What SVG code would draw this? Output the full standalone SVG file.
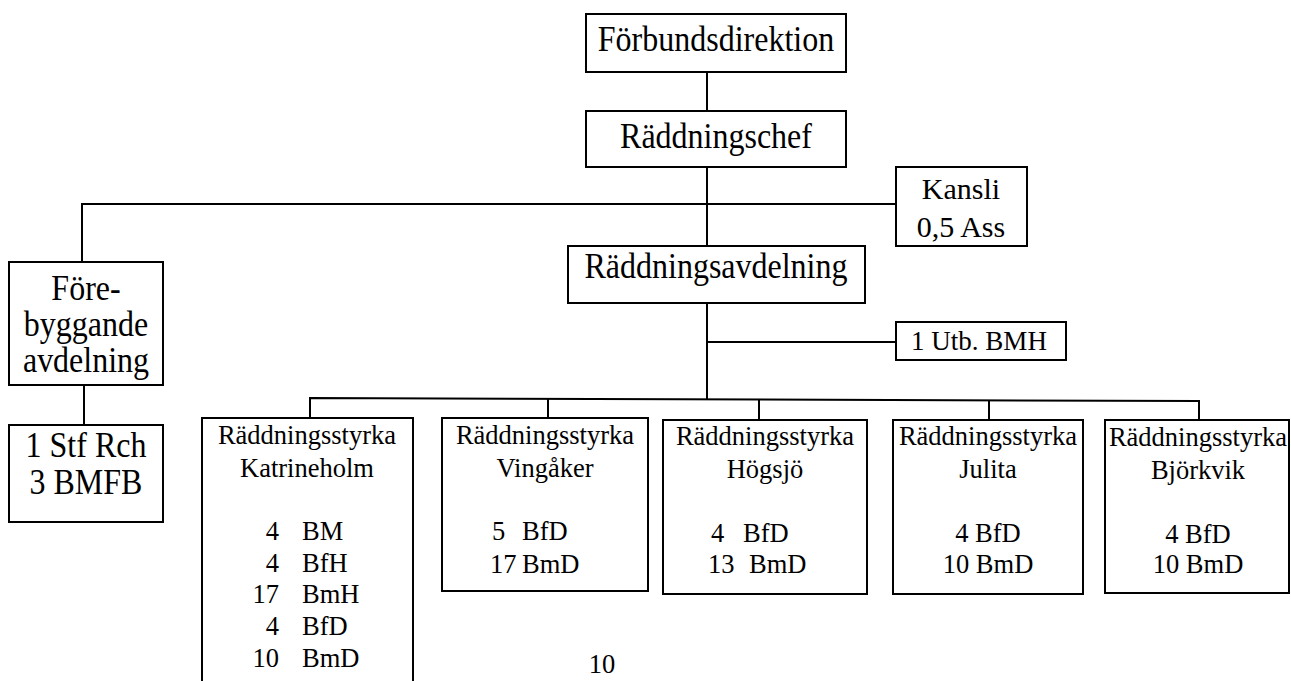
<svg xmlns="http://www.w3.org/2000/svg" width="1291" height="681" viewBox="0 0 1291 681">
<style>
.box{fill:#fff;stroke:#000;stroke-width:2}
.ln{stroke:#000;stroke-width:2;fill:none}
text{font-family:"Liberation Serif","Times New Roman",serif;fill:#000}
.t32{font-size:32px;text-anchor:middle}
.t30{font-size:30px;text-anchor:middle}
.t27{font-size:27px;text-anchor:middle}
.s{font-size:26.5px}
.m{text-anchor:middle}
.e{text-anchor:end}
</style>
<rect width="1291" height="681" fill="#fff"/>
<g id="connectors">
<line class="ln" x1="707" y1="72" x2="707" y2="111"/>
<line class="ln" x1="707" y1="167" x2="707" y2="246"/>
<polyline class="ln" points="82,262 82,204 896,204"/>
<line class="ln" x1="84" y1="385" x2="84" y2="425"/>
<line class="ln" x1="707" y1="303" x2="707" y2="399"/>
<line class="ln" x1="707" y1="342" x2="896" y2="342"/>
<polyline class="ln" points="310,418 310,398 1199,401 1199,420"/>
<line class="ln" x1="548" y1="398" x2="548" y2="418"/>
<line class="ln" x1="759" y1="399" x2="759" y2="420"/>
<line class="ln" x1="989" y1="400" x2="989" y2="420"/>
</g>
<g id="forbundsdirektion">
<rect class="box" x="586" y="14" width="260" height="58"/>
<text class="t32" transform="translate(716,51) scale(1,1.1)">Förbundsdirektion</text>
</g>
<g id="raddningschef">
<rect class="box" x="586" y="111" width="260" height="56"/>
<text class="t32" transform="translate(716,148) scale(1,1.1)">Räddningschef</text>
</g>
<g id="kansli">
<rect class="box" x="896" y="167" width="131" height="79"/>
<text class="t30" x="961" y="199">Kansli</text>
<text class="t30" x="961" y="237">0,5 Ass</text>
</g>
<g id="raddningsavdelning">
<rect class="box" x="568" y="246" width="297" height="57"/>
<text class="t32" transform="translate(716,278) scale(1,1.1)">Räddningsavdelning</text>
</g>
<g id="utb">
<rect class="box" x="896" y="322" width="170" height="38"/>
<text class="t27" x="979" y="350">1 Utb. BMH</text>
</g>
<g id="forebyggande">
<rect class="box" x="9" y="262" width="154" height="123"/>
<text class="t32" transform="translate(86,300) scale(1,1.1)">Före-</text>
<text class="t32" transform="translate(86,336) scale(1,1.1)">byggande</text>
<text class="t32" transform="translate(86,372) scale(1,1.1)">avdelning</text>
</g>
<g id="stf">
<rect class="box" x="9" y="425" width="154" height="97"/>
<text class="t32" transform="translate(86,457) scale(1,1.1)">1 Stf Rch</text>
<text class="t32" transform="translate(86,494) scale(1,1.1)">3 BMFB</text>
</g>
<g id="katrineholm">
<rect class="box" x="202" y="418" width="211" height="280"/>
<text class="s m" x="307" y="444">Räddningsstyrka</text>
<text class="s m" x="307" y="477">Katrineholm</text>
<text class="s e" x="279" y="540">4</text><text class="s" x="302" y="540">BM</text>
<text class="s e" x="279" y="572">4</text><text class="s" x="302" y="572">BfH</text>
<text class="s e" x="279" y="603">17</text><text class="s" x="302" y="603">BmH</text>
<text class="s e" x="279" y="635">4</text><text class="s" x="302" y="635">BfD</text>
<text class="s e" x="279" y="667">10</text><text class="s" x="302" y="667">BmD</text>
</g>
<g id="vingaker">
<rect class="box" x="442" y="418" width="206" height="173"/>
<text class="s m" x="545" y="444">Räddningsstyrka</text>
<text class="s m" x="545" y="477">Vingåker</text>
<text class="s" x="492" y="540">5</text><text class="s" x="522" y="540">BfD</text>
<text class="s" x="490" y="573">17</text><text class="s" x="522" y="573">BmD</text>
</g>
<g id="hogsjo">
<rect class="box" x="663" y="420" width="204" height="174"/>
<text class="s m" x="765" y="445">Räddningsstyrka</text>
<text class="s m" x="765" y="478">Högsjö</text>
<text class="s" x="711" y="542">4</text><text class="s" x="743" y="542">BfD</text>
<text class="s" x="708" y="573">13</text><text class="s" x="749" y="573">BmD</text>
</g>
<g id="julita">
<rect class="box" x="893" y="420" width="190" height="174"/>
<text class="s m" x="988" y="445">Räddningsstyrka</text>
<text class="s m" x="988" y="478">Julita</text>
<text class="s m" x="988" y="542">4 BfD</text>
<text class="s m" x="988" y="573">10 BmD</text>
</g>
<g id="bjorkvik">
<rect class="box" x="1105" y="420" width="184" height="173"/>
<text class="s m" x="1198" y="446">Räddningsstyrka</text>
<text class="s m" x="1198" y="479">Björkvik</text>
<text class="s m" x="1198" y="543">4 BfD</text>
<text class="s m" x="1198" y="573">10 BmD</text>
</g>
<text class="s m" x="602" y="673">10</text>
</svg>
